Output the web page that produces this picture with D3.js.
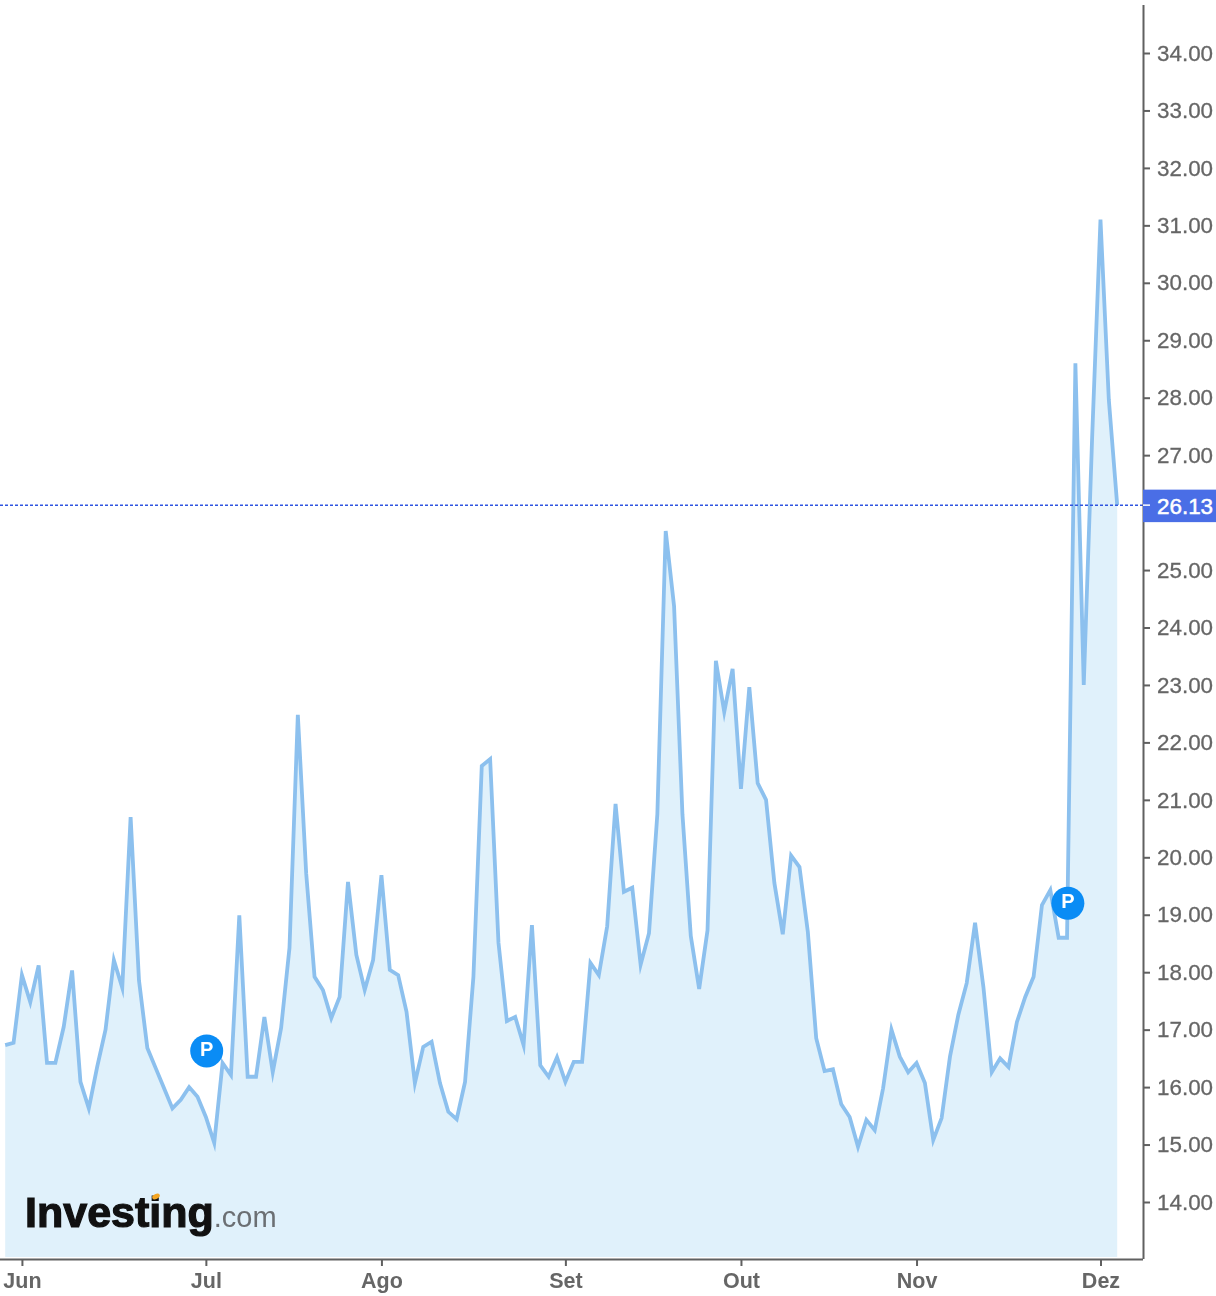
<!DOCTYPE html>
<html>
<head>
<meta charset="utf-8">
<script src="https://cdn.jsdelivr.net/npm/d3@7"></script>
<style>
html, body { margin: 0; padding: 0; background: #fff; }
svg { display: block; filter: blur(0.65px); font-family: "Liberation Sans", Arial, sans-serif; }
.line { fill: none; stroke: #8cc0ee; stroke-width: 3.8; stroke-linejoin: miter; stroke-miterlimit: 6; }
.area { fill: #e0f1fb; }
.axis path, .axis line { stroke: #606060; }
.axis path { stroke-width: 2; }
.axis line { stroke-width: 2; }
.axis text { fill: #666; font-size: 22.4px; stroke: #666; stroke-width: 0.3; }
</style>
</head>
<body>
<div id="newChart"></div>
<script>
// closing values, one per trading day
var values = [
    16.73, 16.77, 17.95, 17.48, 18.12, 16.42, 16.42, 17.05, 18.03, 16.09,
    15.63, 16.35, 17.00, 18.21, 17.73, 20.70, 17.86, 16.68, 16.33, 15.98,
    15.63, 15.78, 16.00, 15.83, 15.48, 15.03, 16.42, 16.21, 18.99, 16.18,
    16.18, 17.22, 16.26, 17.03, 18.42, 22.48, 19.72, 17.92, 17.69, 17.20,
    17.57, 19.57, 18.30, 17.69, 18.21, 19.69, 18.04, 17.95, 17.31, 16.07,
    16.70, 16.79, 16.07, 15.57, 15.44, 16.09, 17.92, 21.59, 21.71, 18.51,
    17.15, 17.22, 16.73, 18.82, 16.38, 16.18, 16.52, 16.09, 16.44, 16.44,
    18.16, 17.95, 18.80, 20.93, 19.40, 19.47, 18.13, 18.68, 20.75, 25.68,
    24.37, 20.75, 18.63, 17.71, 18.73, 23.42, 22.53, 23.28, 21.19, 22.96,
    21.29, 21.00, 19.55, 18.66, 20.03, 19.83, 18.70, 16.85, 16.28, 16.31,
    15.70, 15.48, 14.96, 15.43, 15.25, 15.98, 17.00, 16.53, 16.26, 16.42,
    16.07, 15.08, 15.46, 16.53, 17.26, 17.81, 18.86, 17.74, 16.26, 16.50,
    16.35, 17.13, 17.57, 17.92, 19.17, 19.43, 18.60, 18.60, 28.60, 23.00,
    27.30, 31.10, 27.96, 26.13
];

var monthLabels = ['Jun', 'Jul', 'Ago', 'Set', 'Out', 'Nov', 'Dez'];
var monthIndex = [2, 24, 45, 67, 88, 109, 131];
var priceTicks = [14, 15, 16, 17, 18, 19, 20, 21, 22, 23, 24, 25, 26, 27, 28, 29, 30, 31, 32, 33, 34];
var lastPrice = 26.13;
var markerIndex = [24.1, 127.1];
var markerValue = [16.63, 19.2];

drawChart(values);

function drawChart(data) {
    var width = 1216;
    var height = 1296;
    var axisX = 1143;
    var axisY = 1259;

    var x = d3.scaleLinear().domain([0, data.length - 1]).range([5.2, 1117.2]);
    var y = d3.scaleLinear().domain([34, 14]).range([53, 1202]);

    var svg = d3.select('#newChart').append('svg')
                .attr('width', width)
                .attr('height', height);

    var area = d3.area()
                .x(function(d, i) { return x(i); })
                .y0(axisY - 2)
                .y1(function(d) { return y(d); });

    var line = d3.line()
                .x(function(d, i) { return x(i); })
                .y(function(d) { return y(d); });

    svg.append('path').attr('class', 'area').attr('d', area(data));

    // logo sits on top of the area, under the line
    var logo = svg.append('text').attr('x', 25).attr('y', 1227);
    logo.append('tspan')
        .attr('font-size', 43).attr('font-weight', 'bold')
        .attr('fill', '#111').attr('stroke', '#111').attr('stroke-width', 1.2)
        .text('Investing');
    logo.append('tspan')
        .attr('font-size', 29).attr('fill', '#6b6f73')
        .text('.com');
    svg.append('ellipse')
        .attr('cx', 156).attr('cy', 1196.5).attr('rx', 4).attr('ry', 2.5)
        .attr('transform', 'rotate(-25 156 1196.5)')
        .attr('fill', '#f5a623');

    svg.append('path').attr('class', 'line').attr('d', line(data));

    // current price line
    svg.append('line')
        .attr('x1', 0).attr('x2', axisX)
        .attr('y1', y(lastPrice)).attr('y2', y(lastPrice))
        .attr('stroke', '#2f55e0')
        .attr('stroke-width', 1.5)
        .attr('stroke-dasharray', '3 2');

    // axes
    var yAxis = d3.axisRight(y)
                .tickValues(priceTicks.filter(function(d) { return d !== 26; }))
                .tickFormat(d3.format('.2f'))
                .tickSize(7)
                .tickPadding(7);
    var xAxis = d3.axisBottom(x)
                .tickValues(monthIndex)
                .tickFormat(function(d, i) { return monthLabels[i]; })
                .tickSize(7)
                .tickPadding(7);

    var yG = svg.append('g').attr('class', 'y axis')
                .attr('transform', 'translate(' + axisX + ',0)').call(yAxis);
    yG.select('.domain').attr('d', 'M0.5,5V' + axisY);

    var xG = svg.append('g').attr('class', 'x axis')
                .attr('transform', 'translate(0,' + axisY + ')').call(xAxis);
    xG.select('.domain').attr('d', 'M0,0.5H' + axisX);
    xG.selectAll('text').attr('font-weight', 'bold').style('stroke-width', 0).style('font-size', '21.5px');

    // price tag
    svg.append('rect')
        .attr('x', axisX).attr('y', y(lastPrice) - 15.5)
        .attr('width', width - axisX).attr('height', 32.5)
        .attr('fill', '#4a6ee6');
    svg.append('line')
        .attr('x1', axisX).attr('x2', axisX + 7)
        .attr('y1', y(lastPrice)).attr('y2', y(lastPrice))
        .attr('stroke', '#fff').attr('stroke-width', 1.5);
    svg.append('text')
        .attr('x', 1157).attr('y', y(lastPrice) + 9)
        .attr('fill', '#fff').attr('font-size', 22.4).attr('stroke', '#fff').attr('stroke-width', 0.5)
        .text(d3.format('.2f')(lastPrice));

    // P markers
    var markers = svg.selectAll('g.marker')
                .data(markerIndex)
                .enter().append('g')
                .attr('class', 'marker')
                .attr('transform', function(d, i) {
                    return 'translate(' + x(d) + ',' + y(markerValue[i]) + ')';
                });
    markers.append('circle').attr('r', 16.5).attr('fill', '#0a8cf5');
    markers.append('text')
        .attr('text-anchor', 'middle').attr('y', 5)
        .attr('font-size', 20).attr('font-weight', 'bold')
        .attr('fill', '#fff')
        .text('P');
}
</script>
</body>
</html>
